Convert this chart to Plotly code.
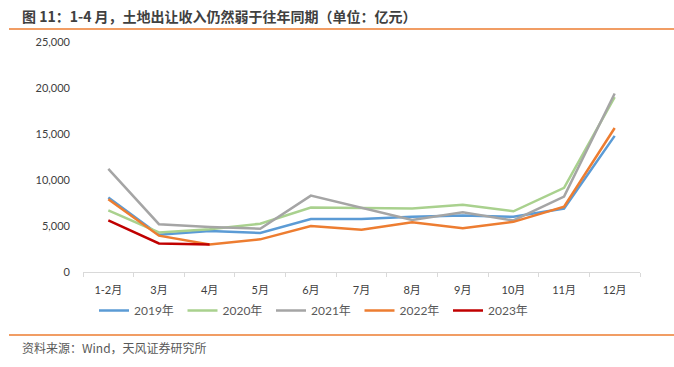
import plotly.graph_objects as go

categories = ["1-2月", "3月", "4月", "5月", "6月", "7月", "8月", "9月", "10月", "11月", "12月"]
y2019 = [8100, 4050, 4450, 4250, 5750, 5750, 6000, 6150, 6000, 6900, 14800]
y2020 = [6700, 4300, 4650, 5250, 7000, 6950, 6900, 7300, 6600, 9150, 19000]
y2021 = [11200, 5200, 4900, 4700, 8300, 7000, 5650, 6500, 5600, 8200, 19400]
y2022 = [7900, 3950, 3000, 3550, 5000, 4600, 5400, 4750, 5450, 7100, 15650]
y2023 = [5600, 3100, 3000]

series = [
    ("2019年", y2019, "#5B9BD5"),
    ("2020年", y2020, "#A9D18E"),
    ("2021年", y2021, "#A5A5A5"),
    ("2022年", y2022, "#ED7D31"),
    ("2023年", y2023, "#C00000"),
]

font_family = "Lato, 'Noto Sans CJK SC', sans-serif"

fig = go.Figure()
for name, vals, color in series:
    fig.add_trace(go.Scatter(
        x=categories[:len(vals)], y=vals, name=name, mode="lines",
        line=dict(color=color, width=2.5),
    ))

W, H = 674, 367
L, R, T, B = 83, 34, 42, 95
pw = W - L - R
ph = H - T - B

def px(x):
    return (x - L) / pw

def py(y):
    return (H - B - y) / ph

fig.update_layout(
    width=W, height=H,
    margin=dict(l=L, r=R, t=T, b=B, autoexpand=False),
    paper_bgcolor="white", plot_bgcolor="white",
    font=dict(family=font_family, size=11, color="#595959"),
    showlegend=True,
    legend=dict(
        orientation="h", x=px(94), y=py(296), xanchor="left", yanchor="top",
        entrywidth=43.5, entrywidthmode="pixels",
        font=dict(size=12, color="#595959"),
        bgcolor="rgba(0,0,0,0)", itemwidth=30, tracegroupgap=0,
    ),
    xaxis=dict(
        type="category", categoryorder="array", categoryarray=categories,
        showgrid=False, showline=True, linecolor="#D9D9D9", linewidth=1,
        ticks="outside", tickson="boundaries", ticklen=4, tickcolor="#D9D9D9",
        tickfont=dict(size=11, color="#404040"), range=[-0.5, 10.5],
        ticklabelstandoff=8,
    ),
    yaxis=dict(
        range=[0, 25000], dtick=5000, tickformat=",",
        showgrid=False, showline=False, zeroline=False,
        tickfont=dict(size=11, color="#404040"), ticks="",
        ticklabelstandoff=12,
    ),
)

fig.add_annotation(
    x=px(20), y=py(16), xref="paper", yref="paper", xanchor="left", yanchor="middle",
    text="<b>图 11：1-4 月，土地出让收入仍然弱于往年同期（单位：亿元）</b>",
    showarrow=False, font=dict(size=14, color="#404040", family="'Noto Sans CJK SC', sans-serif"),
)
fig.add_annotation(
    x=px(20), y=py(348), xref="paper", yref="paper", xanchor="left", yanchor="middle",
    text="资料来源：Wind，天风证券研究所",
    showarrow=False, font=dict(size=12, color="#595959", family="'Noto Sans CJK SC', sans-serif"),
)
fig.add_shape(type="line", xref="paper", yref="paper",
              x0=px(9), x1=px(674), y0=py(29), y1=py(29),
              line=dict(color="#ED7D31", width=1.5))
fig.add_shape(type="line", xref="paper", yref="paper",
              x0=px(9), x1=px(674), y0=py(335), y1=py(335),
              line=dict(color="#ED7D31", width=1.5))

fig.write_html("out.html", config={"displayModeBar": False},
               post_script="document.body.style.margin='0px';")
